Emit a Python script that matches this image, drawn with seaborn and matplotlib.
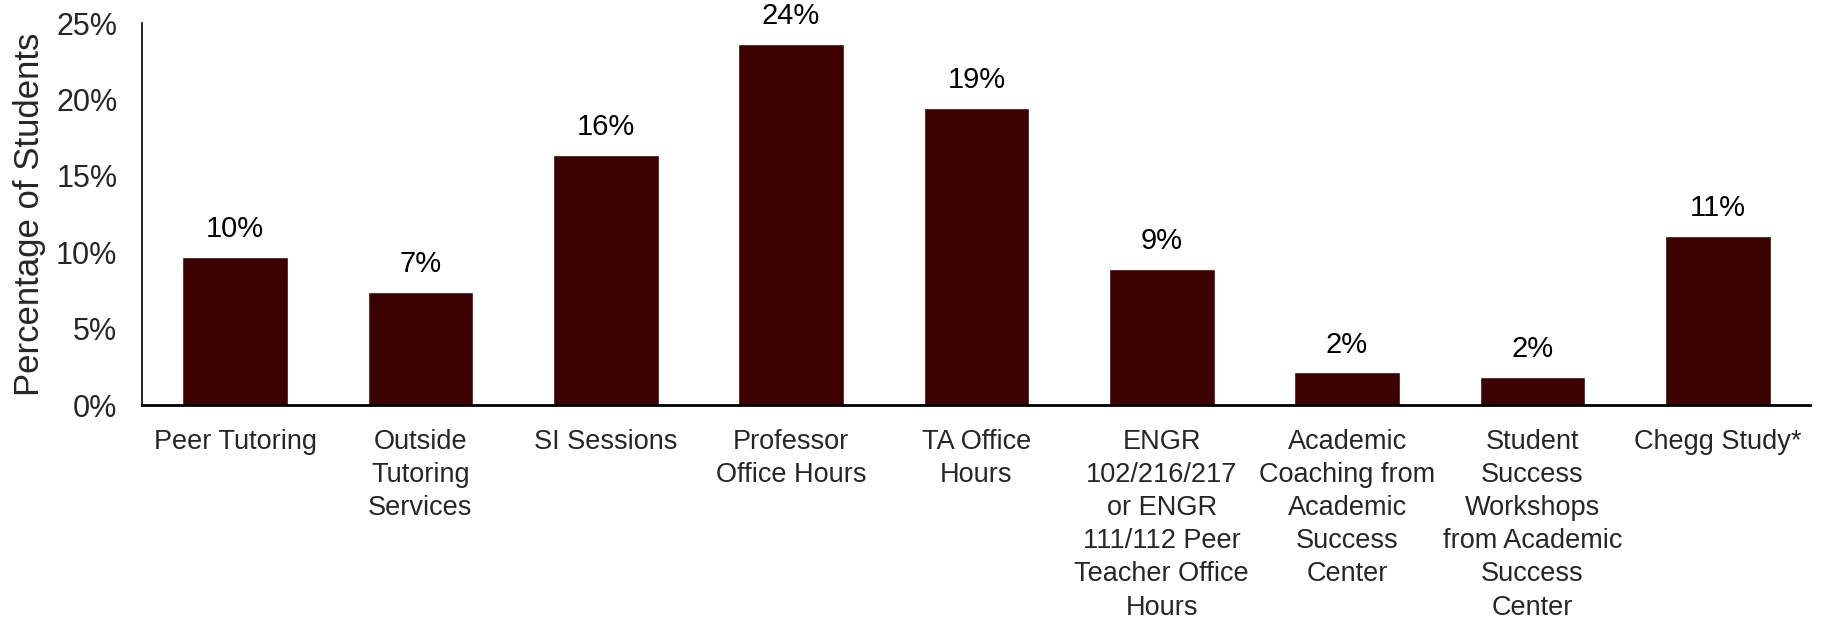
import matplotlib
matplotlib.use("Agg")
import matplotlib.pyplot as plt
from matplotlib.ticker import PercentFormatter
import seaborn as sns
import pandas as pd

# Data
categories = [
    "Peer Tutoring",
    "Outside\nTutoring\nServices",
    "SI Sessions",
    "Professor\nOffice Hours",
    "TA Office\nHours",
    "ENGR\n102/216/217\nor ENGR\n111/112 Peer\nTeacher Office\nHours",
    "Academic\nCoaching from\nAcademic\nSuccess\nCenter",
    "Student\nSuccess\nWorkshops\nfrom Academic\nSuccess\nCenter",
    "Chegg Study*",
]
values = [9.7, 7.4, 16.35, 23.65, 19.45, 8.9, 2.13, 1.84, 11.05]
value_labels = ["10%", "7%", "16%", "24%", "19%", "9%", "2%", "2%", "11%"]

df = pd.DataFrame({"service": categories, "pct": values})

sns.set_style("white")
plt.rcParams["font.family"] = ["Liberation Sans", "DejaVu Sans"]

fig = plt.figure(figsize=(18.25, 6.19), dpi=100)
ax = fig.add_axes([0.078, 0.3457, 0.914, 0.617])

sns.barplot(data=df, x="service", y="pct", color="#3c0000", width=0.57,
            saturation=1, ax=ax)

# value labels above the bars
for i, (v, lab) in enumerate(zip(values, value_labels)):
    ax.annotate(lab, (i, v), xytext=(0, 10), textcoords="offset points",
                ha="center", va="bottom", fontsize=21, color="black")

ax.set_ylim(0, 25)
ax.set_xlim(-0.5, 8.5)
ax.set_yticks([0, 5, 10, 15, 20, 25])
ax.yaxis.set_major_formatter(PercentFormatter(100, decimals=0))
ax.set_xlabel("")
ax.set_ylabel("Percentage of Students", fontsize=25, labelpad=7)

ax.tick_params(axis="y", length=0, pad=18, labelsize=22)
ax.tick_params(axis="x", length=0, pad=17)
for t in ax.get_xticklabels():
    t.set_fontsize(19.5)
    t.set_linespacing(1.36)

sns.despine(ax=ax)
ax.spines["left"].set_color("black")
ax.spines["left"].set_linewidth(1.2)
ax.spines["bottom"].set_color("black")
ax.spines["bottom"].set_linewidth(2)

fig.savefig("out.png", dpi=100)
